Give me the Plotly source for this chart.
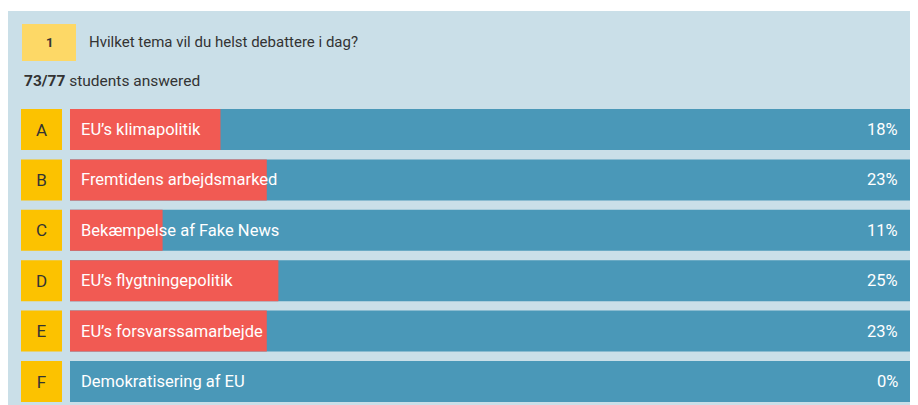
import plotly.graph_objects as go

letters = ["A", "B", "C", "D", "E", "F"]
labels = ["EU’s klimapolitik", "Fremtidens arbejdsmarked", "Bekæmpelse af Fake News",
          "EU’s flygtningepolitik", "EU’s forsvarssamarbejde", "Demokratisering af EU"]
votes = [13, 17, 8, 18, 17, 0]
question_no = "1"
question = "Hvilket tema vil du helst debattere i dag?"
answered = 73
total = 77

shares = [100 * v / answered for v in votes]
percents = [round(s) for s in shares]

OFF = 8  # page body margin
W, H = 918 - 2 * OFF, 405 - OFF
FONT = "Roboto"
PANEL = "#cadfe8"
BLUE = "#4a98b8"
RED = "#f15a53"
YEL = "#fcc200"
YEL2 = "#fdd866"
DARK = "#333333"

def px(x):
    return (x - OFF) / W

def py(y):
    return 1 - (y - OFF) / H

h = 41
pitch = (402 - 109 - h) / 5.0
half = h / (2 * pitch)

# track: 0 -> page x 70, 100 -> page x 915; visible area ends at page x 910
x_end = 100 * (OFF + W - 70) / (915 - 70)

fig = go.Figure()
fig.add_trace(go.Bar(y=letters, x=[100] * len(letters), orientation="h",
                     marker=dict(color=BLUE, line=dict(width=0)), xaxis="x", yaxis="y",
                     hoverinfo="skip", showlegend=False))
fig.add_trace(go.Bar(y=letters, x=shares, orientation="h",
                     marker=dict(color=RED, line=dict(width=0)), xaxis="x", yaxis="y",
                     hoverinfo="skip", showlegend=False))
fig.add_trace(go.Bar(y=letters, x=[1] * len(letters), orientation="h",
                     marker=dict(color=YEL, line=dict(width=0)), xaxis="x2", yaxis="y",
                     text=letters, textposition="inside", insidetextanchor="middle",
                     textfont=dict(family=FONT, size=17, color=DARK),
                     hoverinfo="skip", showlegend=False))

annotations = []
for L, lab, p in zip(letters, labels, percents):
    annotations.append(dict(x=0, y=L, xref="x", yref="y", text=lab, showarrow=False,
                            xanchor="left", yanchor="middle", xshift=9,
                            font=dict(family=FONT, size=16.5, color="white")))
    annotations.append(dict(x=x_end, y=L, xref="x", yref="y", text=f"{p}%", showarrow=False,
                            xanchor="right", yanchor="middle", xshift=-10,
                            font=dict(family=FONT, size=16.5, color="white")))

annotations.append(dict(x=px(49), y=py(43), xref="paper", yref="paper", text=f"<b>{question_no}</b>",
                        showarrow=False, xanchor="center", yanchor="middle",
                        font=dict(family=FONT, size=13, color=DARK)))
annotations.append(dict(x=px(87), y=py(42), xref="paper", yref="paper", text=question,
                        showarrow=False, xanchor="left", yanchor="middle",
                        font=dict(family=FONT, size=15, color=DARK)))
annotations.append(dict(x=px(22), y=py(81), xref="paper", yref="paper",
                        text=f"<b>{answered}/{total}</b> students answered",
                        showarrow=False, xanchor="left", yanchor="middle",
                        font=dict(family=FONT, size=15.5, color=DARK)))

shapes = [
    dict(type="rect", xref="paper", yref="paper", x0=px(8), x1=1.02, y0=-0.05, y1=py(11),
         fillcolor=PANEL, line=dict(width=0), layer="below"),
    dict(type="rect", xref="paper", yref="paper", x0=px(22), x1=px(76), y0=py(61), y1=py(24),
         fillcolor=YEL2, line=dict(width=0), layer="below"),
]

fig.update_layout(
    width=W, height=H, margin=dict(l=0, r=0, t=0, b=0),
    paper_bgcolor="white", plot_bgcolor="rgba(0,0,0,0)",
    barmode="overlay", bargap=1 - h / pitch,
    xaxis=dict(domain=[px(70), 1], range=[0, x_end], visible=False, fixedrange=True),
    xaxis2=dict(domain=[px(21), px(62)], range=[0, 1], visible=False, fixedrange=True),
    yaxis=dict(domain=[max(0, py(402)), py(109)], range=[len(letters) - 1 + half, -half],
               visible=False, type="category", fixedrange=True),
    annotations=annotations, shapes=shapes,
)

fig.write_html("out.html")
